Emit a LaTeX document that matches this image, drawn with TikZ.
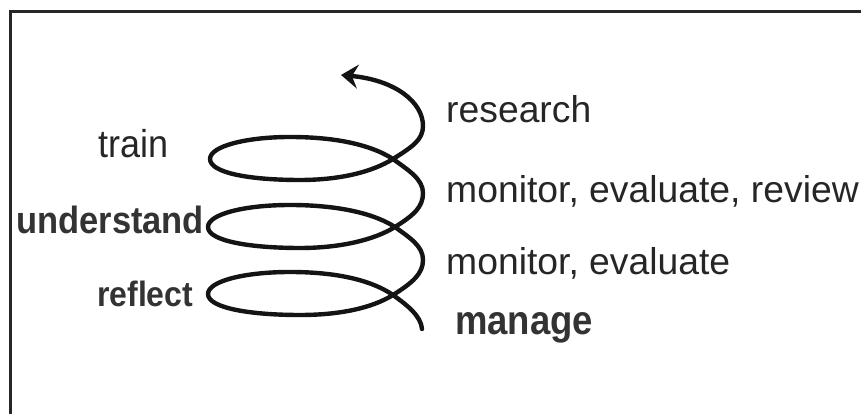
\documentclass[tikz,border=0pt]{standalone}
\usepackage{fontspec}
\setmainfont{Liberation Sans}
\usetikzlibrary{arrows.meta}
\begin{document}
\begin{tikzpicture}[x=1pt,y=1pt,
  lbl/.style={anchor=base west,inner sep=0pt,text=black!85},
  boldlbl/.style={lbl,text=black!80},
  coil/.style={line width=4.4pt,line cap=round,line join=round,black!92},
  frameline/.style={line width=2.4pt,black!85}]
  \useasboundingbox (0,0) rectangle (861,414);
  % outer frame (only left and top edges are visible)
  \coordinate (fbl) at (10.5,-2);
  \coordinate (ftl) at (10.5,402.5);
  \coordinate (ftr) at (863,402.5);
  \draw[frameline] (fbl) -- (ftl) -- (ftr);

  % points of the coil, bottom to top
  \coordinate (e)  at (422,85);
  \coordinate (c1) at (393,119);
  \coordinate (t1) at (290,142);
  \coordinate (l1) at (208,120);
  \coordinate (b1) at (300,99);
  \coordinate (r1) at (423,154);
  \coordinate (c2) at (395,187);
  \coordinate (t2) at (290,209);
  \coordinate (l2) at (208,187);
  \coordinate (b2) at (300,166);
  \coordinate (r2) at (423,221);
  \coordinate (c3) at (393,255);
  \coordinate (t3) at (290,277);
  \coordinate (l3) at (210,255);
  \coordinate (b3) at (300,234);
  \coordinate (r3) at (423,288);
  \coordinate (tip) at (341,339);

  \draw[coil,-{Stealth[length=17pt,width=24pt,inset=6pt]}]
    (e)  .. controls (421,98)  and (407,109) .. (c1)
         .. controls (368,136) and (330,142) .. (t1)
         .. controls (245,142) and (208,133) .. (l1)
         .. controls (208,106) and (250,99)  .. (b1)
         .. controls (340,99)  and (372,106) .. (c1)
         .. controls (412,131) and (423,140) .. (r1)
         .. controls (423,168) and (410,176) .. (c2)
         .. controls (370,203) and (330,209) .. (t2)
         .. controls (245,209) and (208,200) .. (l2)
         .. controls (208,173) and (250,166) .. (b2)
         .. controls (340,166) and (374,174) .. (c2)
         .. controls (414,199) and (423,207) .. (r2)
         .. controls (423,235) and (408,244) .. (c3)
         .. controls (368,271) and (330,277) .. (t3)
         .. controls (247,277) and (210,268) .. (l3)
         .. controls (210,241) and (250,234) .. (b3)
         .. controls (340,234) and (372,242) .. (c3)
         .. controls (412,267) and (423,274) .. (r3)
         .. controls (423,312) and (395,334) .. (tip);

  % labels on the right
  \node[lbl,font=\fontsize{37.3}{40}\selectfont] (research) at (446,291) {research};
  \node[lbl,font=\fontsize{37.3}{40}\selectfont] (mer) at (446,211) {monitor, evaluate, review};
  \node[lbl,font=\fontsize{37.3}{40}\selectfont] (me) at (446,139) {monitor, evaluate};
  \node[boldlbl,font=\fontsize{36.5}{40}\selectfont\bfseries] (manage) at (455,79) {\scalebox{1}[1.12]{manage}};

  % labels on the left
  \node[lbl,font=\fontsize{36}{40}\selectfont] (train) at (98,256) {\scalebox{1}[1.08]{train}};
  \node[boldlbl,font=\fontsize{34.5}{40}\selectfont\bfseries] (understand) at (16,180) {\scalebox{1}[1.1]{understand}};
  \node[boldlbl,font=\fontsize{32}{40}\selectfont\bfseries] (reflect) at (97,107) {\scalebox{1}[1.1]{reflect}};
\end{tikzpicture}
\end{document}
